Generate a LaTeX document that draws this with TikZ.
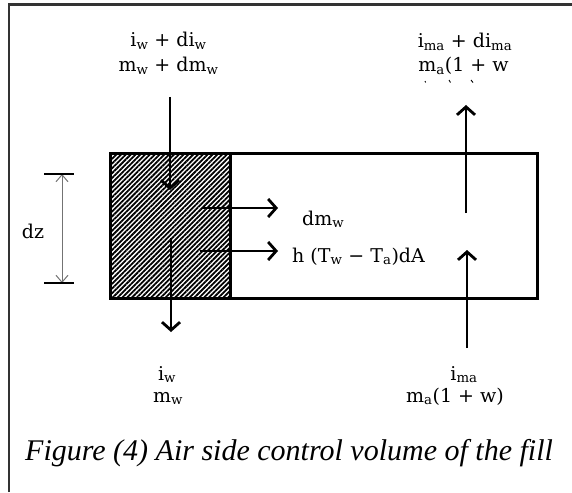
\documentclass[tikz,border=0pt]{standalone}
\usepackage{fontspec}
\setmainfont{Liberation Serif}
\newfontfamily\lblfont{DejaVu Serif}
\usetikzlibrary{arrows.meta,patterns.meta}
\begin{document}
\begin{tikzpicture}[x=1pt,y=-1pt,
  flow/.style={line width=2.8pt,-{Straight Barb[length=8pt,width=18pt,line width=2.8pt]}},
  dimline/.style={line width=1pt,draw=black!55,{Straight Barb[length=7pt,width=12pt]}-{Straight Barb[length=7pt,width=12pt]}},
  dimbar/.style={line width=1.5pt},
  lbl/.style={font=\lblfont\fontsize{19}{22}\selectfont,inner sep=0pt,anchor=base},
  lblw/.style={lbl,anchor=base west},
  box/.style={draw,line width=3pt,inner sep=0pt}
]
\useasboundingbox (0,0) rectangle (572,492);
\draw[line width=2.2pt,black!80] (9,492) -- (9,4.5) -- (572,4.5);

% control volume
\node[box,minimum width=427pt,minimum height=145pt] (cv) at (323.5,225.5) {};
\node[box,minimum width=120pt,minimum height=145pt,
  pattern={Lines[angle=45,distance=3.4pt,line width=1.8pt]}] (fill) at (170,225.5) {};

% coordinates of arrow ends
\coordinate (wtop) at (170,97);
\coordinate (win) at (170,190);
\coordinate (wstart) at (171,238);
\coordinate (wout) at (171,332);
\coordinate (aout0) at (466,213);
\coordinate (aout) at (466,105);
\coordinate (ain0) at (467,348);
\coordinate (ain) at (467,250);
\coordinate (m0) at (202,208);
\coordinate (m1) at (278,208);
\coordinate (h0) at (200,251);
\coordinate (h1) at (278,251);
\coordinate (dzt) at (62,174);
\coordinate (dzb) at (62,283);
\coordinate (dztl) at (44,174);
\coordinate (dztr) at (74,174);
\coordinate (dzbl) at (44,283);
\coordinate (dzbr) at (74,283);

\draw[flow] (wtop) -- (win);
\draw[flow] (wstart) -- (wout);
\draw[flow] (aout0) -- (aout);
\draw[flow] (ain0) -- (ain);
\draw[flow] (m0) -- (m1);
\draw[flow] (h0) -- (h1);

\draw[dimline] (dzt) -- (dzb);
\draw[dimbar] (dztl) -- (dztr);
\draw[dimbar] (dzbl) -- (dzbr);
\node[font=\lblfont\fontsize{19}{22}\selectfont,inner sep=0pt] (dz) at (33,231) {dz};

% labels
\node[lbl] (t1) at (168.5,47) {i\textsubscript{w} + di\textsubscript{w}};
\node[lbl] (t2) at (168.5,72) {m\textsubscript{w} + dm\textsubscript{w}};
\node[lbl] (t3) at (465,48) {i\textsubscript{ma} + di\textsubscript{ma}};
\node[lbl] (t4) at (463.5,72) {m\textsubscript{a}(1 + w};
\draw[line width=0.9pt] (425,81) -- (425.6,82.5);
\draw[line width=0.9pt] (449,80) -- (450.5,82.5);
\draw[line width=0.9pt] (471,80) -- (473,82.5);

\node[lblw] (dm) at (302,225) {dm\textsubscript{w}};
\node[lblw] (hq) at (292,262) {h (T\textsubscript{w} − T\textsubscript{a})dA};

\node[lbl] (b1) at (167,380) {i\textsubscript{w}};
\node[lbl] (b2) at (168,402) {m\textsubscript{w}};
\node[lbl] (b3) at (464,380) {i\textsubscript{ma}};
\node[lbl] (b4) at (455,402) {m\textsubscript{a}(1 + w)};

\node[font=\itshape\fontsize{30}{33}\selectfont,inner sep=0pt,anchor=base west] (cap) at (25,460)
  {Figure (4) Air side control volume of the fill};
\end{tikzpicture}
\end{document}
